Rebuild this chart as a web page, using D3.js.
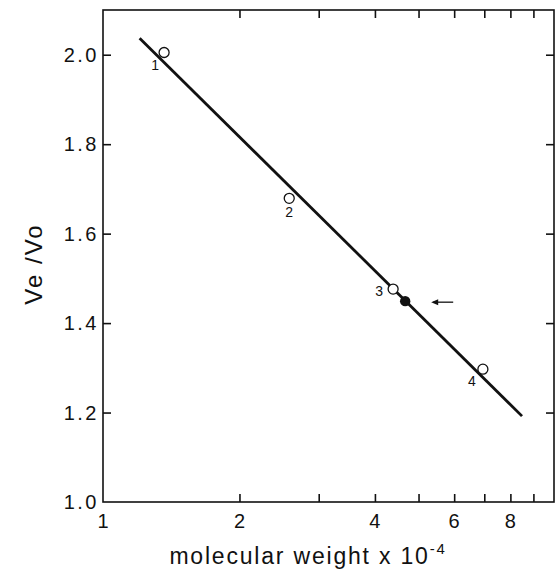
<!DOCTYPE html>
<html>
<head>
<meta charset="utf-8">
<script src="https://cdn.jsdelivr.net/npm/d3@7"></script>
<style>
  html, body { margin: 0; padding: 0; background: #fff; }
  svg { display: block; font-family: "Liberation Sans", Arial, Helvetica, sans-serif; }
</style>
</head>
<body>
<svg id="chart" width="556" height="575"></svg>
<script>
// Calibration standards: molecular weight (x 10^-4) vs elution ratio Ve/Vo
const standardLabels = ["1", "2", "3", "4"];
const standardMW = [1.36, 2.58, 4.39, 6.95];
const standardVeVo = [2.005, 1.679, 1.476, 1.297];

// Unknown sample (filled point, marked by arrow)
const sampleMW = [4.67];
const sampleVeVo = [1.449];

// Fitted calibration line endpoints
const fitMW = [1.20, 8.49];
const fitVeVo = [2.037, 1.192];

// Axis ticks
const xTicks = [1, 2, 3, 4, 5, 6, 7, 8, 9, 10];
const xTickLabels = ["1", "2", "", "4", "", "6", "", "8", "", ""];
const yTicks = [1.0, 1.2, 1.4, 1.6, 1.8, 2.0];

const svg = d3.select("#chart");
const plotL = 103, plotR = 554, plotT = 10, plotB = 502;

const x = d3.scaleLog().domain([1, 10]).range([104, 554]);
const y = d3.scaleLinear().domain([1.0, 2.1]).range([plotB, plotT]);

const tickLen = 8;
const ink = "#111";

// Frame
svg.append("rect")
  .attr("x", plotL).attr("y", plotT)
  .attr("width", plotR - plotL).attr("height", plotB - plotT)
  .attr("fill", "none").attr("stroke", ink).attr("stroke-width", 1.6);

// Bottom axis (ticks inward)
const xb = svg.append("g").attr("transform", `translate(0,${plotB})`)
  .call(d3.axisBottom(x).tickValues(xTicks.slice(1, -1)).tickSize(-tickLen).tickFormat(""));
// Top axis
const xt = svg.append("g").attr("transform", `translate(0,${plotT})`)
  .call(d3.axisTop(x).tickValues(xTicks.slice(1, -1)).tickSize(-tickLen).tickFormat(""));
// Left axis
const yl = svg.append("g").attr("transform", `translate(${plotL},0)`)
  .call(d3.axisLeft(y).tickValues(yTicks.slice(1)).tickSize(-tickLen).tickFormat(""));
// Right axis
const yr = svg.append("g").attr("transform", `translate(${plotR},0)`)
  .call(d3.axisRight(y).tickValues(yTicks.slice(1)).tickSize(-tickLen).tickFormat(""));

[xb, xt, yl, yr].forEach(g => {
  g.select(".domain").remove();
  g.selectAll(".tick line").attr("stroke", ink).attr("stroke-width", 1.6);
});

// X tick labels
svg.append("g").selectAll("text")
  .data(xTicks.map((v, i) => ({ v, t: xTickLabels[i] })).filter(d => d.t))
  .join("text")
  .attr("x", d => d.v === 1 ? plotL : x(d.v))
  .attr("y", plotB + 26)
  .attr("text-anchor", "middle")
  .attr("font-size", 20)
  .attr("fill", ink)
  .text(d => d.t);

// Y tick labels
svg.append("g").selectAll("text")
  .data(yTicks)
  .join("text")
  .attr("x", plotL - 4)
  .attr("y", d => y(d) + 7)
  .attr("text-anchor", "end")
  .attr("font-size", 20)
  .attr("letter-spacing", 2.5)
  .attr("fill", ink)
  .text(d => d3.format(".1f")(d));

// Axis titles
svg.append("text")
  .attr("transform", `translate(42,${(plotT + plotB) / 2 + 8}) rotate(-90)`)
  .attr("text-anchor", "middle")
  .attr("font-size", 24)
  .attr("letter-spacing", 2)
  .attr("fill", ink)
  .text("Ve /Vo");

const xTitle = svg.append("text")
  .attr("x", 308).attr("y", 564)
  .attr("text-anchor", "middle")
  .attr("font-size", 23)
  .attr("letter-spacing", 1.8)
  .attr("fill", ink);
xTitle.append("tspan").text("molecular weight x 10");
xTitle.append("tspan").attr("dy", -10).attr("font-size", 15).text("-4");

// Fitted line
svg.append("line")
  .attr("x1", x(fitMW[0])).attr("y1", y(fitVeVo[0]))
  .attr("x2", x(fitMW[1])).attr("y2", y(fitVeVo[1]))
  .attr("stroke", ink).attr("stroke-width", 2.8);

// Standards (open circles)
const standards = standardMW.map((m, i) => ({ m, v: standardVeVo[i], label: standardLabels[i] }));
svg.append("g").selectAll("circle")
  .data(standards)
  .join("circle")
  .attr("cx", d => x(d.m)).attr("cy", d => y(d.v))
  .attr("r", 5)
  .attr("fill", "#fff").attr("stroke", ink).attr("stroke-width", 1.3);

// Point labels
const labelOffsets = { "1": [-9, 18], "2": [0, 19], "3": [-14, 7], "4": [-11, 17] };
svg.append("g").selectAll("text")
  .data(standards)
  .join("text")
  .attr("x", d => x(d.m) + labelOffsets[d.label][0])
  .attr("y", d => y(d.v) + labelOffsets[d.label][1])
  .attr("text-anchor", "middle")
  .attr("font-size", 14)
  .attr("fill", ink)
  .text(d => d.label);

// Sample (filled)
svg.append("g").selectAll("circle")
  .data(sampleMW.map((m, i) => ({ m, v: sampleVeVo[i] })))
  .join("circle")
  .attr("cx", d => x(d.m)).attr("cy", d => y(d.v))
  .attr("r", 5.2)
  .attr("fill", ink);

// Arrow pointing at the sample
const ax = x(sampleMW[0]), ay = y(sampleVeVo[0]);
svg.append("line")
  .attr("x1", ax + 28).attr("y1", ay + 1)
  .attr("x2", ax + 48).attr("y2", ay + 1)
  .attr("stroke", ink).attr("stroke-width", 1.3);
svg.append("path")
  .attr("d", `M${ax + 26},${ay + 1} L${ax + 33},${ay - 2} L${ax + 33},${ay + 4} Z`)
  .attr("fill", ink);
</script>
</body>
</html>
